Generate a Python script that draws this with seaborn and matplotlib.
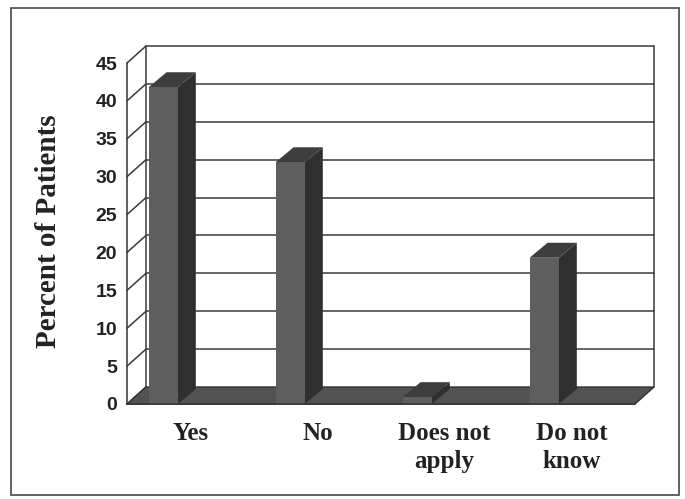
import matplotlib
matplotlib.use("Agg")
import matplotlib.pyplot as plt
from matplotlib.patches import Polygon, Rectangle
import pandas as pd
import seaborn as sns

# Survey answers and share of patients (%)
categories = ["Yes", "No", "Does not\napply", "Do not\nknow"]
percent = [41.8, 31.9, 0.9, 19.3]
y_ticks = [0, 5, 10, 15, 20, 25, 30, 35, 40, 45]

sns.set_style("white")
plt.rcParams["font.family"] = ["Liberation Sans", "DejaVu Sans"]

W, H = 685, 499
fig = plt.figure(figsize=(W / 100, H / 100), dpi=100)
fig.patch.set_facecolor("white")

# front plane of the 3-D box
ax = fig.add_axes([127 / W, 1 - 404 / H, 508 / W, 341 / H])
ax.set_facecolor("none")

df = pd.DataFrame({"answer": categories, "percent": percent})
sns.barplot(data=df, x="answer", y="percent", color="#5e5e5e", saturation=1,
            width=0.23, linewidth=0, ax=ax, zorder=5)

ax.set_xlim(-0.5, 3.5)
ax.set_ylim(0, 45)

# pixel sizes -> data units for the oblique depth offsets
px_x = 508 / 4          # pixels per category
px_y = 341 / 45         # pixels per percent
wall_dx, wall_dy = 19 / px_x, 17 / px_y      # depth of the floor / walls
bar_dx, bar_dy = 18 / px_x, 15 / px_y        # depth of each column

grid_col = "#3a3a3a"
x0, x1 = -0.5, 3.5

# floor
floor = Polygon([(x0, 0), (x1, 0), (x1 + wall_dx, wall_dy), (x0 + wall_dx, wall_dy)],
                closed=True, fc="#525252", ec="#333333", lw=1, zorder=2, clip_on=False)
ax.add_patch(floor)

# back wall and left wall gridlines
for v in y_ticks:
    if v > 0:
        ax.plot([x0 + wall_dx, x1 + wall_dx], [v + wall_dy, v + wall_dy],
                color=grid_col, lw=1.1, zorder=1, clip_on=False)
    ax.plot([x0, x0 + wall_dx], [v, v + wall_dy], color=grid_col, lw=1.1,
            zorder=1, clip_on=False)
for xe in (x0 + wall_dx, x1 + wall_dx):
    ax.plot([xe, xe], [wall_dy, 45 + wall_dy], color=grid_col, lw=1.1,
            zorder=1, clip_on=False)

# columns: shift fronts, then add side and top faces
for p in ax.patches:
    if p is floor:
        continue
    p.set_x(p.get_x() - 0.215)
    bx0 = p.get_x()
    bx1 = bx0 + p.get_width()
    v = p.get_height()
    side = Polygon([(bx1, 0), (bx1 + bar_dx, bar_dy), (bx1 + bar_dx, v + bar_dy), (bx1, v)],
                   closed=True, fc="#2f2f2f", ec="none", zorder=4, clip_on=False)
    top = Polygon([(bx0, v), (bx1, v), (bx1 + bar_dx, v + bar_dy), (bx0 + bar_dx, v + bar_dy)],
                  closed=True, fc="#3d3d3d", ec="none", zorder=4, clip_on=False)
    ax.add_patch(side)
    ax.add_patch(top)

# spines
for s in ("top", "right"):
    ax.spines[s].set_visible(False)
for s in ("left", "bottom"):
    ax.spines[s].set_color("#333333")
    ax.spines[s].set_linewidth(1.1)
    ax.spines[s].set_zorder(6)

# y axis
ax.set_yticks(y_ticks)
ax.set_yticklabels([str(t) for t in y_ticks])
ax.tick_params(axis="y", length=5, width=1, color="#333333", pad=2,
               labelsize=14, labelcolor="#222222")
for lbl in ax.get_yticklabels():
    lbl.set_fontweight("bold")
ax.set_ylabel("")

# x axis
ax.set_xticks(range(len(categories)))
ax.set_xticklabels(categories, fontfamily="Liberation Serif", fontweight="bold",
                   fontsize=18, color="#222222", linespacing=1.3)
ax.set_xticks([0.5, 1.5, 2.5, 3.5], minor=True)
ax.tick_params(axis="x", which="major", length=0, pad=13)
ax.tick_params(axis="x", which="minor", length=6, width=1, color="#333333")
ax.set_xlabel("")

fig.text(48 / W, 1 - 231 / H, "Percent of Patients", rotation=90,
         ha="center", va="center", fontfamily="Liberation Serif",
         fontweight="bold", fontsize=21, color="#222222")

# outer chart frame
fig.add_artist(Rectangle((11 / W, 1 - 495 / H), 668 / W, 487 / H,
                         transform=fig.transFigure, fill=False,
                         lw=1.3, ec="#555555"))

fig.savefig("out.png", dpi=100)
